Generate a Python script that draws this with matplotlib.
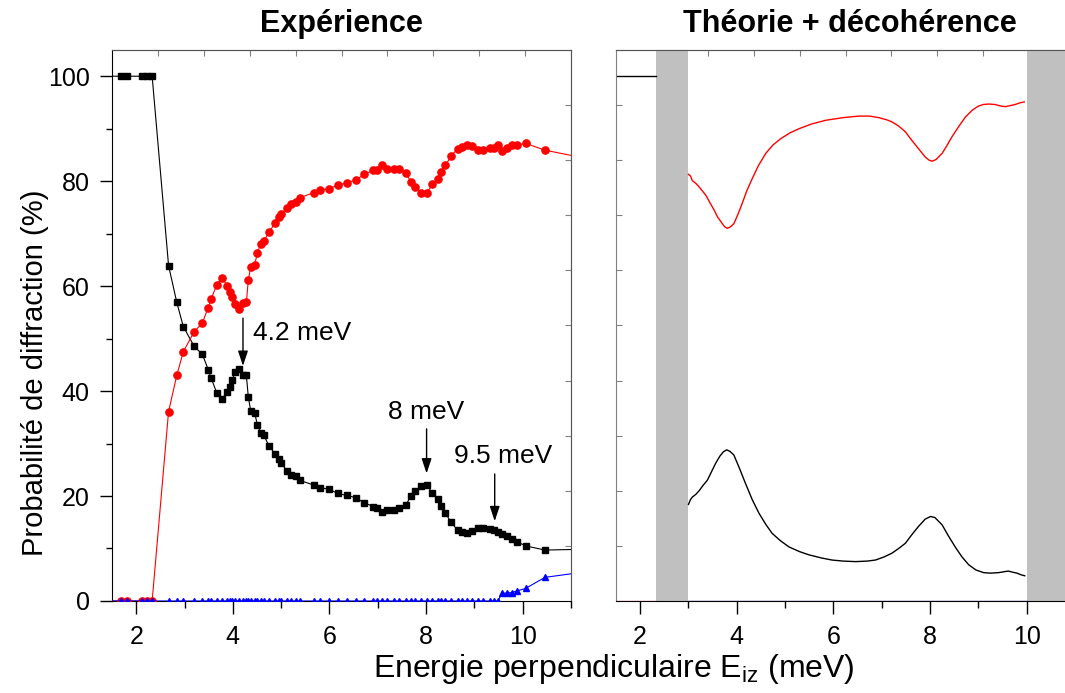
import numpy as np
import matplotlib
matplotlib.use('Agg')
import matplotlib.pyplot as plt

plt.rcParams['font.family'] = ['Liberation Sans', 'DejaVu Sans']
plt.rcParams['mathtext.default'] = 'regular'

# experiment: energies (meV), first and last values lie outside the axes
e_exp = [1.40, 1.68, 1.81, 2.12, 2.22, 2.33, 2.67, 2.84, 2.975, 3.20, 3.37,
         3.49, 3.55, 3.67, 3.78, 3.88, 3.95, 3.99, 4.05, 4.12, 4.21, 4.28,
         4.32, 4.37, 4.45, 4.51, 4.58, 4.64, 4.75, 4.88, 4.95, 5.00, 5.12,
         5.20, 5.30, 5.38, 5.67, 5.80, 5.99, 6.17, 6.36, 6.54, 6.72, 6.91,
         6.98, 7.09, 7.20, 7.33, 7.44, 7.58, 7.68, 7.78, 7.90, 8.02, 8.13,
         8.24, 8.31, 8.40, 8.52, 8.65, 8.74, 8.85, 8.96, 9.07, 9.18, 9.32,
         9.40, 9.48, 9.58, 9.67, 9.77, 9.88, 10.06, 10.46, 11.50]
spec_exp = [100, 100, 100, 100, 100, 100, 63.9, 56.9, 52.3, 48.5, 47.0,
            44.1, 42.5, 39.6, 38.5, 39.9, 40.8, 42.2, 43.6, 44.2, 43.0, 43.0,
            38.9, 36.2, 35.9, 33.5, 32.0, 31.6, 29.5, 28.0, 27.0, 26.3, 24.8,
            24.1, 23.8, 23.0, 22.1, 21.6, 21.3, 20.5, 20.1, 19.7, 18.7, 18.0,
            17.8, 16.9, 17.3, 17.4, 17.7, 18.2, 20.0, 21.0, 22.0, 22.1, 20.5,
            19.4, 18.1, 16.7, 15.0, 13.5, 13.2, 12.9, 13.4, 14.0, 14.0, 13.7,
            13.5, 13.2, 12.8, 12.4, 11.8, 11.3, 10.5, 9.7, 9.9]
first_exp = [0, 0, 0, 0, 0, 0, 36.1, 43.0, 47.5, 51.3, 53.0,
             55.9, 57.5, 60.3, 61.6, 60.1, 58.9, 58.0, 56.6, 55.7, 56.8, 56.9,
             61.1, 63.7, 64.0, 66.4, 68.1, 68.6, 70.3, 72.1, 73.2, 73.7, 74.9,
             75.7, 76.1, 76.8, 77.8, 78.3, 78.6, 79.2, 79.7, 80.2, 81.3, 82.1,
             82.1, 83.0, 82.4, 82.4, 82.3, 81.6, 79.9, 78.9, 77.8, 77.8, 79.4,
             80.4, 81.8, 83.0, 84.8, 86.2, 86.5, 86.9, 86.7, 86.0, 86.0, 86.3,
             86.3, 86.9, 85.8, 86.3, 86.9, 86.9, 87.2, 85.9, 84.0]
second_exp = [0] * 68 + [1.5, 1.5, 1.6, 1.9, 2.4, 4.5, 5.8]

# theory + decoherence
th_low_e = [1.5, 2.32]
th_low_spec = [100, 100]
th_low_first = [0, 0]
th_e_red = [3.0, 3.04, 3.08, 3.15, 3.22, 3.30, 3.36, 3.45, 3.53, 3.60, 3.67,
            3.74, 3.80, 3.87, 3.94, 4.02, 4.11, 4.20, 4.32, 4.45, 4.60, 4.75,
            4.91, 5.10, 5.29, 5.55, 5.84, 6.20, 6.52, 6.75, 6.94, 7.10, 7.21,
            7.35, 7.49, 7.62, 7.76, 7.90, 7.98, 8.04, 8.12, 8.25, 8.35, 8.45,
            8.60, 8.73, 8.87, 9.00, 9.10, 9.21, 9.35, 9.47, 9.56, 9.66, 9.76,
            9.85, 9.95]
th_red = [81.3, 81.0, 80.1, 79.6, 78.9, 78.0, 77.3, 75.8, 74.5, 73.2, 72.3,
          71.4, 71.0, 71.3, 71.9, 73.6, 75.7, 78.0, 80.5, 83.0, 85.3, 86.9,
          88.1, 89.2, 90.0, 90.9, 91.6, 92.1, 92.4, 92.4, 92.1, 91.7, 91.3,
          90.5, 89.4, 87.8, 86.2, 84.6, 84.0, 83.8, 84.1, 85.3, 86.8, 88.4,
          90.5, 92.2, 93.5, 94.3, 94.6, 94.7, 94.6, 94.3, 94.2, 94.4, 94.6,
          94.9, 95.1]
th_e_black = [3.0, 3.04, 3.08, 3.15, 3.22, 3.30, 3.39, 3.47, 3.56, 3.65,
              3.72, 3.79, 3.86, 3.94, 4.05, 4.18, 4.32, 4.46, 4.60, 4.73,
              4.90, 5.08, 5.30, 5.49, 5.75, 5.97, 6.20, 6.46, 6.70, 6.87,
              7.05, 7.21, 7.35, 7.49, 7.62, 7.76, 7.90, 8.01, 8.10, 8.25,
              8.38, 8.52, 8.66, 8.80, 8.95, 9.11, 9.25, 9.42, 9.55, 9.62,
              9.70, 9.80, 9.88, 9.96]
th_black = [18.4, 19.3, 19.8, 20.3, 21.0, 22.0, 23.0, 24.5, 26.2, 27.6,
            28.4, 28.8, 28.5, 27.8, 25.4, 22.4, 19.3, 16.7, 14.6, 12.9,
            11.5, 10.3, 9.4, 8.8, 8.2, 7.8, 7.6, 7.5, 7.6, 7.8,
            8.4, 9.1, 10.0, 11.0, 12.6, 14.2, 15.6, 16.1, 15.9, 14.5,
            12.4, 10.3, 8.4, 6.9, 5.9, 5.4, 5.3, 5.4, 5.6, 5.7,
            5.5, 5.3, 5.0, 4.8]
th_e_blue = [3.0, 10.0]
th_blue = [0, 0]
gaps = [(2.32, 3.0), (10.0, 11.0)]

# peak annotations: label, x, arrow top, arrow bottom, text x, text y, align
peaks = [('4.2 meV', 4.21, 53.9, 44.8, 4.41, 51.0, 'left'),
         ('8 meV', 8.01, 32.8, 24.3, 8.0, 36.0, 'center'),
         ('9.5 meV', 9.42, 24.2, 15.2, 9.6, 27.6, 'center')]

xlim = (1.5, 11.0)
ylim = (0, 105)


def style_axes(ax, left_labels):
    ax.set_xlim(*xlim)
    ax.set_ylim(*ylim)
    ax.set_xticks([2, 4, 6, 8, 10])
    ax.set_xticks([3, 5, 7, 9, 11], minor=True)
    ax.tick_params(axis='x', which='major', direction='out', length=9,
                   width=1, pad=8, labelsize=18)
    ax.tick_params(axis='x', which='minor', direction='out', length=5, width=1)
    for side in ['top', 'right']:
        ax.spines[side].set_color('#555555')
    if left_labels:
        ax.set_yticks(np.arange(0, 101, 20))
        ax.set_yticks(np.arange(10, 100, 20), minor=True)
        ax.tick_params(axis='y', which='major', direction='out', length=9,
                       width=1, pad=7, labelsize=18)
        ax.tick_params(axis='y', which='minor', direction='out', length=4,
                       width=1)
    else:
        ax.spines['left'].set_color('#808080')
        ax.set_yticks(ylim[1] * np.arange(1, 10) / 10)
        ax.set_yticklabels([])
        ax.tick_params(axis='y', direction='in', length=4, color='#808080')
    # Origin-style mirror ticks every tenth of the frame
    span = xlim[1] - xlim[0]
    top = ax.secondary_xaxis('top', functions=(lambda x: (x - xlim[0]) / span,
                                               lambda f: xlim[0] + f * span))
    top.set_xticks(np.arange(1, 10) / 10)
    top.set_xticklabels([])
    top.tick_params(direction='in', length=4, color='#808080')
    top.spines['top'].set_color('#555555')
    if left_labels:
        rgt = ax.secondary_yaxis('right',
                                 functions=(lambda y: y / ylim[1],
                                            lambda f: f * ylim[1]))
        rgt.set_yticks(np.arange(1, 10) / 10)
        rgt.set_yticklabels([])
        rgt.tick_params(direction='in', length=4, color='#808080')
        rgt.spines['right'].set_color('#808080')


fig = plt.figure(figsize=(10.65, 6.93), dpi=100)
ax1 = fig.add_axes([0.1052, 0.1328, 0.4310, 0.7951])
ax2 = fig.add_axes([0.5784, 0.1328, 0.4310, 0.7951])

ax1.plot(e_exp, spec_exp, '-s', color='black', lw=0.8, ms=4.5, zorder=3)
ax1.plot(e_exp, first_exp, '-o', color='red', lw=0.8, ms=5.2, zorder=3)
ax1.plot(e_exp, second_exp, '-^', color='blue', lw=0.8, ms=5, zorder=4)
for label, x, ytop, ybot, tx, ty, ha in peaks:
    ax1.annotate('', xy=(x, ybot), xytext=(x, ytop),
                 arrowprops=dict(arrowstyle='-|>,head_length=0.9,head_width=0.3',
                                 color='black', lw=1, shrinkA=0, shrinkB=0))
    ax1.text(tx, ty, label, ha=ha, va='center', fontsize=19)
ax1.set_title('Expérience', fontsize=22, fontweight='bold', pad=13)
style_axes(ax1, True)

for lo, hi in gaps:
    ax2.axvspan(lo, hi, color='#c0c0c0', lw=0, zorder=1)
ax2.plot(th_low_e, th_low_spec, color='black', lw=1, zorder=2)
ax2.plot(th_low_e, th_low_first, color='#ff66aa', lw=1, zorder=2)
ax2.plot(th_e_red, th_red, color='red', lw=1, zorder=2)
ax2.plot(th_e_black, th_black, color='black', lw=1, zorder=2)
ax2.plot(th_e_blue, th_blue, color='#3333aa', lw=1, zorder=2)
style_axes(ax2, False)
fig.text(0.798, 0.966, 'Théorie + décohérence', ha='center', va='center',
         fontsize=22, fontweight='bold')

fig.text(0.033, 0.462, 'Probabilité de diffraction (%)', rotation=90,
         ha='center', va='center', fontsize=21)
fig.text(0.5765, 0.035, 'Energie perpendiculaire E$_{iz}$ (meV)',
         ha='center', va='center', fontsize=23)

fig.savefig('out.png', dpi=100)
